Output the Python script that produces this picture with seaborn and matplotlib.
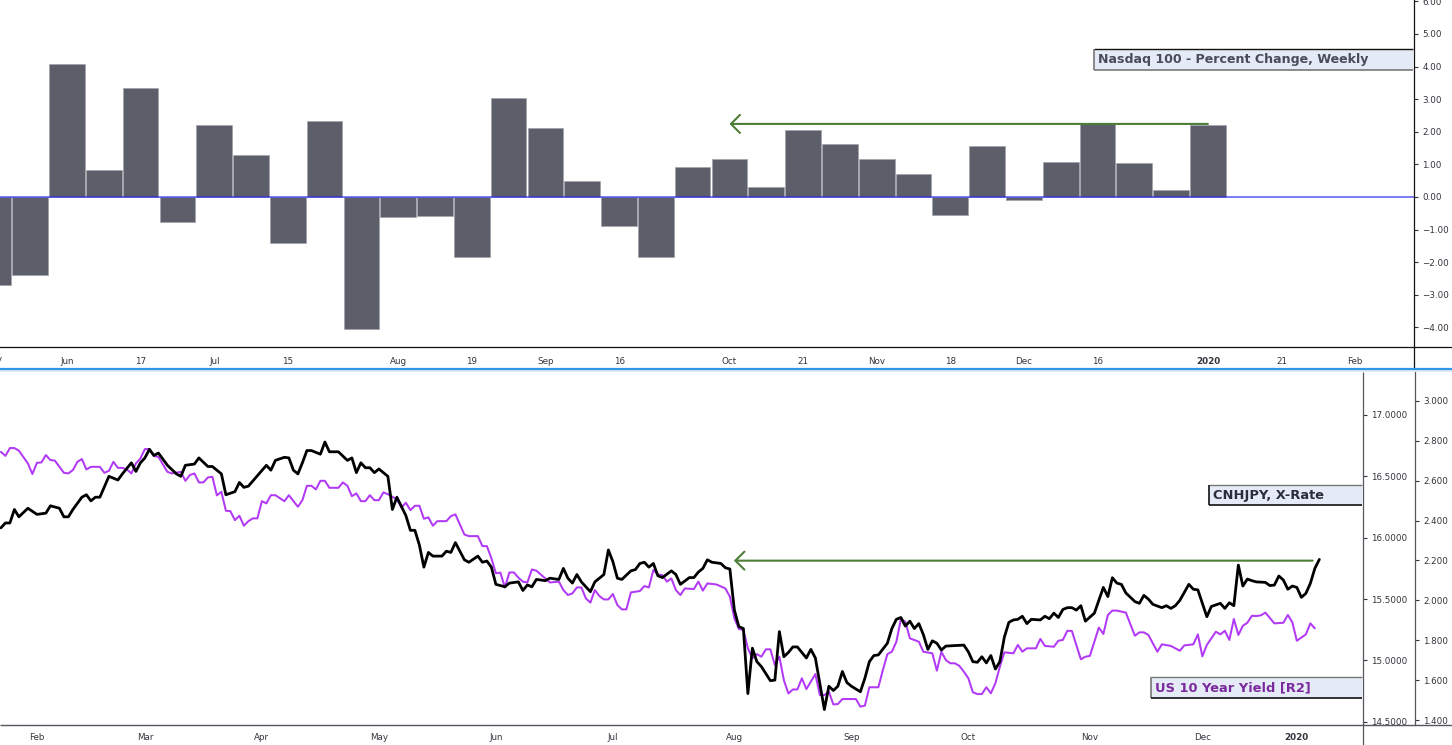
import matplotlib
matplotlib.use("Agg")
import matplotlib.pyplot as plt
import seaborn as sns
from matplotlib.lines import Line2D
from matplotlib.patches import Rectangle
from matplotlib.transforms import blended_transform_factory

W, H = 1452, 745

# weekly Nasdaq 100 percent change
week_change = [
    -2.70, -2.40, 4.08, 0.83, 3.35, -0.78, 2.20, 1.30, -1.40, 2.33, -4.05, -0.62,
    -0.57, -1.85, 3.02, 2.10, 0.50, -0.90, -1.85, 0.93, 1.15, 0.30, 2.05, 1.63,
    1.15, 0.72, -0.55, 1.57, -0.10, 1.07, 2.27, 1.05, 0.22, 2.20,
]
week_ticks = [2, 4, 6, 8, 11, 13, 15, 17, 20, 22, 24, 26, 28, 30, 33, 35, 37]
week_labels = ["Jun", "17", "Jul", "15", "Aug", "19", "Sep", "16", "Oct", "21",
               "Nov", "18", "Dec", "16", "2020", "21", "Feb"]
pct_ticks = [-4, -3, -2, -1, 0, 1, 2, 3, 4, 5, 6]

# (session, value)
cnhjpy = [
    (0, 16.08), (1, 16.12), (2, 16.12), (3, 16.23), (4, 16.17), (6, 16.24), (8, 16.19), (10, 16.20),
    (11, 16.26), (13, 16.24), (14, 16.17), (15, 16.17), (16, 16.23), (18, 16.33), (19, 16.35), (20, 16.30),
    (21, 16.33), (22, 16.33), (24, 16.50), (26, 16.47), (27, 16.52), (29, 16.61), (30, 16.54), (31, 16.61),
    (32, 16.65), (33, 16.72), (34, 16.67), (35, 16.69), (37, 16.59), (39, 16.52), (40, 16.50), (41, 16.59),
    (43, 16.60), (44, 16.65), (46, 16.58), (47, 16.58), (48, 16.55), (49, 16.52), (50, 16.35), (52, 16.375),
    (53, 16.45), (54, 16.41), (55, 16.42), (59, 16.59), (60, 16.55), (61, 16.63), (63, 16.655), (64, 16.65),
    (65, 16.55), (66, 16.52), (67, 16.61), (68, 16.71), (69, 16.71), (71, 16.68), (72, 16.78), (73, 16.70),
    (75, 16.70), (77, 16.63), (78, 16.65), (79, 16.53), (80, 16.61), (81, 16.57), (82, 16.57), (83, 16.53),
    (84, 16.56), (86, 16.50), (87, 16.23), (88, 16.33), (90, 16.18), (91, 16.06), (92, 16.06), (93, 15.94),
    (94, 15.76), (95, 15.88), (96, 15.85), (98, 15.85), (99, 15.89), (100, 15.88), (101, 15.96), (103, 15.82),
    (104, 15.80), (106, 15.85), (107, 15.80), (108, 15.81), (109, 15.76), (110, 15.62), (112, 15.60), (113, 15.63),
    (115, 15.64), (116, 15.57), (117, 15.615), (118, 15.60), (119, 15.66), (121, 15.65), (122, 15.67), (124, 15.66),
    (125, 15.75), (126, 15.67), (127, 15.63), (128, 15.70), (129, 15.64), (131, 15.56), (132, 15.64), (134, 15.70),
    (135, 15.90), (136, 15.805), (137, 15.67), (138, 15.66), (140, 15.73), (141, 15.74), (142, 15.79), (143, 15.80),
    (144, 15.76), (145, 15.79), (146, 15.69), (147, 15.675), (149, 15.73), (150, 15.70), (151, 15.62), (153, 15.675),
    (154, 15.675), (155, 15.72), (156, 15.75), (157, 15.82), (158, 15.80), (160, 15.79), (161, 15.755), (162, 15.745),
    (163, 15.41), (164, 15.275), (165, 15.26), (166, 14.73), (167, 15.10), (168, 14.99), (169, 14.95), (171, 14.835),
    (172, 14.84), (173, 15.235), (174, 15.03), (175, 15.065), (176, 15.11), (177, 15.11), (179, 15.02), (180, 15.09),
    (181, 15.02), (183, 14.60), (184, 14.79), (185, 14.755), (186, 14.79), (187, 14.91), (188, 14.82), (189, 14.79),
    (191, 14.745), (192, 14.855), (193, 14.99), (194, 15.04), (195, 15.045), (197, 15.14), (198, 15.26), (199, 15.335),
    (200, 15.35), (201, 15.28), (202, 15.32), (203, 15.26), (204, 15.30), (205, 15.21), (206, 15.09), (207, 15.16),
    (208, 15.14), (209, 15.085), (210, 15.117), (214, 15.125), (215, 15.07), (216, 14.99), (217, 14.985), (218, 15.03),
    (219, 14.98), (220, 15.04), (221, 14.93), (222, 14.99), (223, 15.19), (224, 15.31), (225, 15.33), (226, 15.335),
    (227, 15.36), (228, 15.30), (229, 15.335), (231, 15.33), (232, 15.36), (233, 15.34), (234, 15.385), (235, 15.35),
    (236, 15.415), (237, 15.43), (238, 15.43), (239, 15.41), (240, 15.446), (241, 15.32), (243, 15.385), (245, 15.595),
    (246, 15.52), (247, 15.674), (248, 15.63), (249, 15.62), (250, 15.55), (252, 15.48), (253, 15.465), (254, 15.53),
    (255, 15.50), (256, 15.457), (258, 15.43), (259, 15.446), (260, 15.424), (261, 15.446), (262, 15.49), (264, 15.62),
    (265, 15.58), (266, 15.575), (268, 15.356), (269, 15.44), (271, 15.465), (272, 15.424), (273, 15.47), (274, 15.446),
    (275, 15.777), (276, 15.606), (277, 15.663), (278, 15.65), (279, 15.64), (281, 15.636), (282, 15.61), (283, 15.614),
    (284, 15.688), (285, 15.655), (286, 15.58), (287, 15.606), (288, 15.595), (289, 15.514), (290, 15.546), (291, 15.628),
    (292, 15.75), (293, 15.823),
]
us10y = [
    (0, 2.744), (1, 2.724), (2, 2.763), (3, 2.763), (4, 2.75), (6, 2.686), (7, 2.633), (8, 2.689),
    (9, 2.691), (10, 2.728), (11, 2.703), (12, 2.70), (14, 2.639), (15, 2.636), (16, 2.653), (17, 2.694),
    (18, 2.708), (19, 2.656), (20, 2.669), (22, 2.669), (23, 2.639), (24, 2.649), (25, 2.694), (26, 2.664),
    (27, 2.664), (28, 2.656), (29, 2.636), (30, 2.686), (31, 2.711), (32, 2.758), (33, 2.758), (34, 2.723),
    (35, 2.719), (37, 2.644), (38, 2.636), (40, 2.644), (41, 2.599), (42, 2.628), (43, 2.636), (44, 2.591),
    (45, 2.591), (46, 2.616), (47, 2.619), (48, 2.526), (49, 2.544), (50, 2.449), (51, 2.447), (52, 2.402),
    (53, 2.424), (54, 2.374), (55, 2.397), (56, 2.411), (57, 2.411), (58, 2.497), (59, 2.486), (60, 2.527),
    (61, 2.527), (63, 2.497), (64, 2.527), (66, 2.469), (67, 2.502), (68, 2.574), (69, 2.574), (70, 2.556),
    (71, 2.599), (72, 2.599), (73, 2.564), (75, 2.564), (76, 2.591), (77, 2.574), (78, 2.522), (79, 2.536),
    (80, 2.497), (81, 2.497), (82, 2.527), (83, 2.502), (84, 2.502), (85, 2.541), (86, 2.532), (87, 2.519),
    (88, 2.506), (89, 2.466), (90, 2.489), (91, 2.452), (92, 2.474), (93, 2.474), (94, 2.409), (95, 2.416),
    (96, 2.374), (97, 2.397), (99, 2.397), (100, 2.422), (101, 2.431), (103, 2.330), (104, 2.322), (106, 2.322),
    (107, 2.272), (108, 2.272), (109, 2.211), (110, 2.136), (111, 2.139), (112, 2.065), (113, 2.14), (114, 2.14),
    (115, 2.114), (116, 2.094), (117, 2.09), (118, 2.155), (119, 2.149), (121, 2.11), (122, 2.09), (124, 2.094),
    (125, 2.052), (126, 2.027), (127, 2.035), (128, 2.065), (129, 2.065), (130, 2.01), (131, 1.989), (132, 2.052),
    (133, 2.022), (134, 2.005), (135, 2.005), (136, 2.032), (137, 1.977), (138, 1.955), (139, 1.955), (140, 2.04),
    (142, 2.047), (143, 2.072), (144, 2.065), (145, 2.152), (146, 2.13), (147, 2.127), (148, 2.094), (149, 2.11),
    (150, 2.052), (151, 2.027), (152, 2.06), (154, 2.057), (155, 2.094), (156, 2.049), (157, 2.085), (159, 2.08),
    (161, 2.06), (162, 2.019), (163, 1.91), (164, 1.857), (165, 1.852), (166, 1.76), (167, 1.71), (168, 1.731),
    (169, 1.718), (170, 1.755), (171, 1.755), (172, 1.676), (173, 1.718), (174, 1.601), (175, 1.534), (176, 1.554),
    (177, 1.554), (178, 1.61), (179, 1.556), (181, 1.631), (182, 1.526), (183, 1.526), (184, 1.543), (185, 1.479),
    (186, 1.481), (187, 1.506), (190, 1.506), (191, 1.468), (192, 1.473), (193, 1.565), (195, 1.565), (196, 1.651),
    (197, 1.731), (198, 1.743), (199, 1.793), (200, 1.905), (201, 1.893), (202, 1.81), (204, 1.793), (205, 1.743),
    (207, 1.735), (208, 1.648), (209, 1.743), (210, 1.701), (211, 1.685), (212, 1.685), (213, 1.672), (214, 1.643),
    (215, 1.61), (216, 1.54), (217, 1.531), (218, 1.531), (219, 1.565), (220, 1.535), (221, 1.585), (222, 1.668),
    (223, 1.74), (225, 1.735), (226, 1.777), (227, 1.743), (228, 1.76), (230, 1.76), (231, 1.807), (232, 1.772),
    (234, 1.768), (235, 1.798), (236, 1.802), (237, 1.848), (238, 1.847), (240, 1.705), (241, 1.718), (242, 1.722),
    (244, 1.864), (245, 1.832), (246, 1.927), (247, 1.949), (248, 1.949), (250, 1.939), (252, 1.823), (253, 1.84),
    (254, 1.84), (255, 1.827), (257, 1.743), (258, 1.78), (260, 1.772), (262, 1.748), (263, 1.775), (265, 1.78),
    (266, 1.83), (267, 1.72), (268, 1.777), (270, 1.843), (271, 1.83), (272, 1.848), (273, 1.802), (274, 1.907),
    (275, 1.827), (276, 1.873), (277, 1.888), (278, 1.923), (279, 1.922), (280, 1.925), (281, 1.939), (283, 1.885),
    (285, 1.888), (286, 1.927), (287, 1.89), (288, 1.798), (290, 1.83), (291, 1.885), (292, 1.86),
]
month_ticks = [8, 32, 58, 84, 110, 136, 163, 189, 215, 242, 267, 288]
month_labels = ["Feb", "Mar", "Apr", "May", "Jun", "Jul", "Aug", "Sep", "Oct", "Nov", "Dec", "2020"]
rate_ticks = [14.5, 15.0, 15.5, 16.0, 16.5, 17.0]
yield_ticks = [1.4, 1.6, 1.8, 2.0, 2.2, 2.4, 2.6, 2.8, 3.0]

TICK_COLOR = "#33343c"
TICK_SIZE = 6.3


def axes_rect(left, top, right, bottom):
    return [left / W, 1 - bottom / H, (right - left) / W, (bottom - top) / H]


def fig_line(fig, x0, y0, x1, y1, color, lw=1.0):
    fig.add_artist(Line2D([x0 / W, x1 / W], [1 - y0 / H, 1 - y1 / H], color=color, lw=lw, solid_capstyle="butt"))


def label_box(fig, x0, y0, x1, y1, text, color, top_c, left_c, bottom_c, size=9.4):
    fig.add_artist(Rectangle((x0 / W, 1 - y1 / H), (x1 - x0) / W, (y1 - y0) / H,
                             transform=fig.transFigure, facecolor="#e5ebf6", edgecolor="none"))
    fig_line(fig, x0, y0, x1, y0, top_c, 1.0)
    fig_line(fig, x0, y0, x0, y1, left_c, 1.2)
    fig_line(fig, x0, y1, x1, y1, bottom_c, 1.2)
    fig.text((x0 + 4) / W, 1 - (y0 + y1) / 2 / H, text, color=color, fontsize=size, fontweight="bold",
             family="DejaVu Sans", va="center", ha="left")


def style_ticks(ax):
    ax.tick_params(axis="both", labelsize=TICK_SIZE, length=3, width=0.8, color=TICK_COLOR,
                   labelcolor=TICK_COLOR, pad=3)


sns.set_style("white")
fig = plt.figure(figsize=(W / 100, H / 100), dpi=100)

# top panel
ax_top = fig.add_axes(axes_rect(0, 0, 1414, 347))
sns.barplot(x=list(range(len(week_change))), y=week_change, native_scale=True, width=0.97,
            color="#5c5e6a", saturation=1, edgecolor="#a2a3aa", linewidth=0.5, ax=ax_top)
ax_top.axhline(0, color="#2a2af0", alpha=0.62, lw=1.4)
ax_top.set_xlim(0.18, 38.6)
ax_top.set_ylim(-4.60, 6.04)
ax_top.set_xticks(week_ticks, week_labels)
ax_top.set_yticks(pct_ticks, [f"{v:.2f}".replace("-", "\u2212") for v in pct_ticks])
ax_top.yaxis.tick_right()
ax_top.set_xlabel("")
ax_top.set_ylabel("")
style_ticks(ax_top)
ax_top.tick_params(axis="x", pad=4)
ax_top.get_xticklabels()[week_labels.index("2020")].set_fontweight("bold")
for side in ["top", "left"]:
    ax_top.spines[side].set_visible(False)
for side in ["right", "bottom"]:
    ax_top.spines[side].set_color("#111111")
    ax_top.spines[side].set_linewidth(0.9)
ax_top.annotate("", xy=(20, 2.24), xytext=(33, 2.24),
                arrowprops=dict(arrowstyle="->,head_length=0.5,head_width=0.5", mutation_scale=13,
                                color="#4d7d36", lw=1.5, shrinkA=0, shrinkB=0))
# month label cut off by the left edge
ax_top.text(0, -0.023, "May", transform=blended_transform_factory(ax_top.transData, ax_top.transAxes),
            ha="center", va="top", fontsize=TICK_SIZE, color=TICK_COLOR)

# lower panel
ax_low = fig.add_axes(axes_rect(0, 372, 1363, 725))
ax_yield = ax_low.twinx()
sns.lineplot(x=[p[0] for p in us10y], y=[p[1] for p in us10y], estimator=None, sort=False,
             color="#b239f5", lw=1.45, ax=ax_yield)
sns.lineplot(x=[p[0] for p in cnhjpy], y=[p[1] for p in cnhjpy], estimator=None, sort=False,
             color="#000000", lw=2.0, ax=ax_low)
ax_low.set_zorder(ax_yield.get_zorder() + 1)
ax_low.patch.set_visible(False)
ax_low.set_xlim(-0.2, 302.7)
ax_low.set_ylim(14.474, 17.35)
ax_yield.set_ylim(1.376, 3.144)
ax_low.set_xticks(month_ticks, month_labels)
ax_low.set_yticks(rate_ticks, [f"{v:.4f}" for v in rate_ticks])
ax_low.yaxis.tick_right()
ax_yield.set_yticks(yield_ticks, [f"{v:.3f}" for v in yield_ticks])
ax_yield.spines["right"].set_position(("outward", 52 * 0.72))
for ax in [ax_low, ax_yield]:
    ax.set_xlabel("")
    ax.set_ylabel("")
    style_ticks(ax)
    for side in ["top", "left", "bottom", "right"]:
        ax.spines[side].set_visible(False)
ax_yield.spines["right"].set_visible(True)
ax_yield.spines["right"].set_color("#55565e")
ax_yield.spines["right"].set_linewidth(0.9)
ax_low.get_xticklabels()[-1].set_fontweight("bold")
ax_low.annotate("", xy=(162.9, 15.813), xytext=(291.5, 15.813),
                arrowprops=dict(arrowstyle="->,head_length=0.5,head_width=0.5", mutation_scale=13,
                                color="#4d7d36", lw=1.5, shrinkA=0, shrinkB=0))

# frame pieces that run past the axes
fig_line(fig, 1414, 347, 1452, 347, "#111111", 0.9)
fig_line(fig, 1414, 347, 1414, 369, "#111111", 0.9)
fig_line(fig, 0, 371, 1452, 371, "#e4e8f2", 1.4)
fig_line(fig, 0, 369, 1452, 369, "#2e97e8", 1.6)
fig_line(fig, 0, 725, 1452, 725, "#55565e", 1.0)
fig_line(fig, 1363, 372, 1363, 745, "#55565e", 0.9)

label_box(fig, 1094, 49, 1413, 70, "Nasdaq 100 - Percent Change, Weekly", "#4a4c5c", "#111111", "#777777", "#777777", size=9.1)
label_box(fig, 1209, 485, 1362, 505, "CNHJPY, X-Rate", "#2b2d3a", "#777777", "#111111", "#111111")
label_box(fig, 1151, 677, 1362, 698, "US 10 Year Yield [R2]", "#7b2a9e", "#777777", "#777777", "#111111")

fig.savefig("out.png", dpi=100)
